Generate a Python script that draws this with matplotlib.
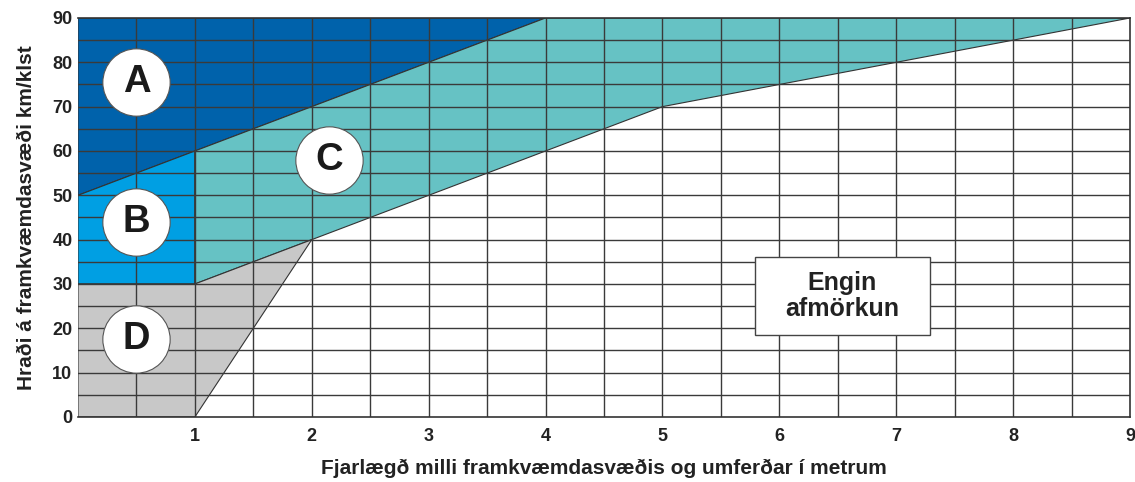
import numpy as np
import matplotlib
matplotlib.use("Agg")
import matplotlib.pyplot as plt
from matplotlib.patches import Polygon, Rectangle

# zone outlines (distance in m, speed in km/klst)
zone_a_x = [0, 4, 0]
zone_a_y = [50, 90, 90]
zone_b_x = [0, 1, 1, 0]
zone_b_y = [30, 30, 60, 50]
zone_c_x = [1, 5, 9, 4, 1]
zone_c_y = [30, 70, 90, 90, 60]
zone_d_x = [0, 1, 2, 1, 0]
zone_d_y = [0, 0, 40, 30, 30]

zone_names = ["A", "B", "C", "D"]
label_x = [0.5, 0.5, 2.15, 0.5]
label_y = [75.5, 44, 58, 17.5]

x_ticks = [1, 2, 3, 4, 5, 6, 7, 8, 9]
y_ticks = [0, 10, 20, 30, 40, 50, 60, 70, 80, 90]

colors = {"A": "#0062ab", "B": "#009fe3", "C": "#66c2c4", "D": "#c8c8c8"}

plt.rcParams['font.family'] = ['Liberation Sans', 'DejaVu Sans']

fig = plt.figure(figsize=(11.35, 4.82), dpi=100)
ax = fig.add_axes([0.0687, 0.1349, 0.9269, 0.8278])

zones = {"A": (zone_a_x, zone_a_y), "B": (zone_b_x, zone_b_y),
         "C": (zone_c_x, zone_c_y), "D": (zone_d_x, zone_d_y)}
for name, (zx, zy) in zones.items():
    ax.add_patch(Polygon(np.column_stack([zx, zy]), closed=True,
                         facecolor=colors[name], edgecolor="#333333",
                         linewidth=0.8, zorder=1))

# grid: every half metre and every 5 km/klst
for gx in np.arange(0.5, 9.0, 0.5):
    ax.axvline(gx, color="#3a3a3a", linewidth=1.0, zorder=2)
for gy in np.arange(5, 90, 5):
    ax.axhline(gy, color="#3a3a3a", linewidth=1.0, zorder=2)

# zone badges
ax.scatter(label_x, label_y, s=2350, facecolor="white", edgecolor="#555555",
           linewidth=0.8, zorder=4)
for name, lx, ly in zip(zone_names, label_x, label_y):
    ax.text(lx, ly, name, ha="center", va="center", fontsize=27.5,
            fontweight="bold", color="#1a1a1a", zorder=5)

# "no marking" box
ax.add_patch(Rectangle((5.79, 18.5), 1.5, 17.6, facecolor="white",
                       edgecolor="#444444", linewidth=1.0, zorder=4))
ax.text(6.54, 27.3, "Engin\nafmörkun", ha="center", va="center",
        fontsize=18, fontweight="bold", color="#222222", linespacing=1.1,
        zorder=5)

ax.set_xlim(0, 9)
ax.set_ylim(0, 90)
ax.set_xticks(x_ticks)
ax.set_yticks(y_ticks)
ax.tick_params(length=0, labelsize=13, colors="#222222")
ax.tick_params(axis="x", pad=8)
ax.tick_params(axis="y", pad=4)
for lab in ax.get_xticklabels() + ax.get_yticklabels():
    lab.set_fontweight("bold")

for side in ["top", "bottom", "right"]:
    ax.spines[side].set_color("#333333")
    ax.spines[side].set_linewidth(1.2)
ax.spines["left"].set_visible(False)

ax.set_xlabel("Fjarlægð milli framkvæmdasvæðis og umferðar í metrum",
              fontsize=15, fontweight="bold", color="#222222", labelpad=10)
ax.set_ylabel("Hraði á framkvæmdasvæði km/klst", fontsize=15,
              fontweight="bold", color="#222222", labelpad=12)

fig.savefig("out.png", dpi=100)
